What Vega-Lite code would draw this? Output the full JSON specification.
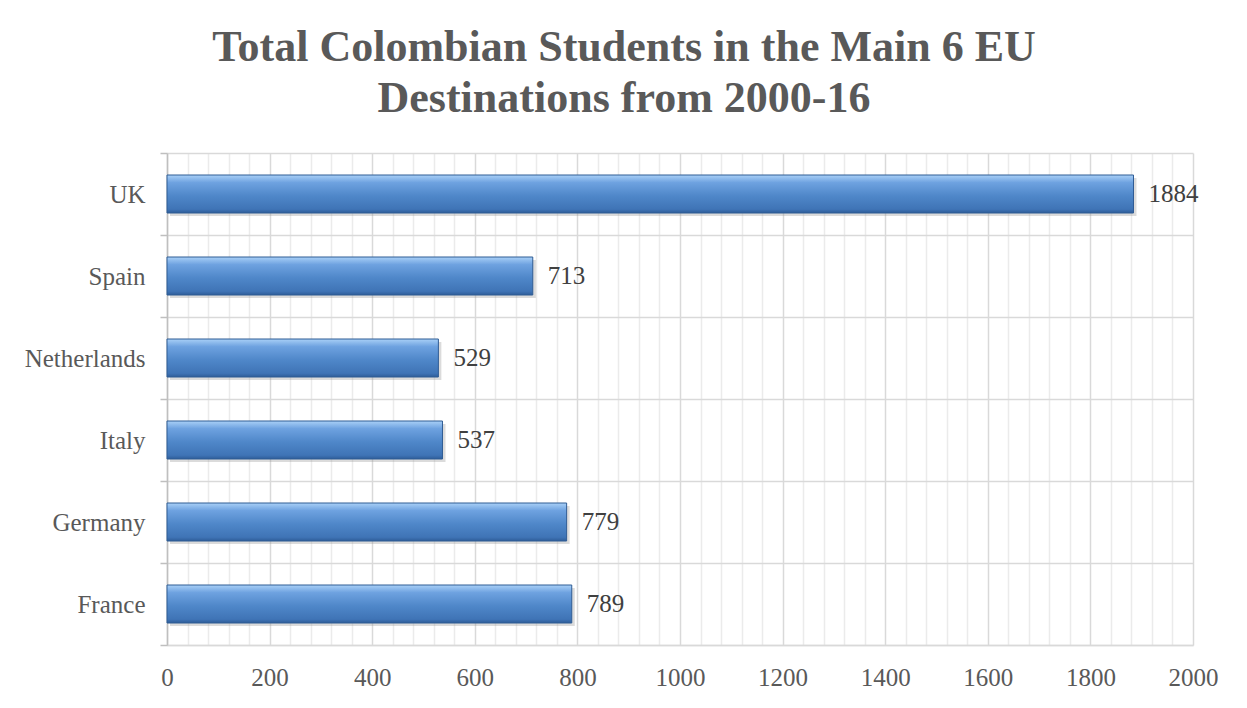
{
  "$schema": "https://vega.github.io/schema/vega-lite/v6.json",
  "width": 1026,
  "height": 492,
  "autosize": "none",
  "padding": {"left": 167, "top": 153, "right": 54, "bottom": 63},
  "background": "white",
  "title": {
    "text": ["Total Colombian Students in the Main 6 EU", "Destinations from 2000-16"],
    "anchor": "middle",
    "frame": "group",
    "dx": -56,
    "offset": 20,
    "font": "Liberation Serif",
    "fontSize": 44,
    "fontWeight": "bold",
    "color": "#595959",
    "lineHeight": 51
  },
  "data": {
    "values": [
      {"country": "UK", "students": 1884},
      {"country": "Spain", "students": 713},
      {"country": "Netherlands", "students": 529},
      {"country": "Italy", "students": 537},
      {"country": "Germany", "students": 779},
      {"country": "France", "students": 789}
    ]
  },
  "encoding": {
    "y": {
      "field": "country",
      "type": "nominal",
      "sort": ["UK", "Spain", "Netherlands", "Italy", "Germany", "France"],
      "scale": {"paddingInner": 0, "paddingOuter": 0},
      "axis": {
        "title": null,
        "tickBand": "extent",
        "grid": true,
        "gridColor": "#d9d9d9",
        "gridWidth": 1.5,
        "domainColor": "#bfbfbf",
        "domainWidth": 1.5,
        "tickColor": "#bfbfbf",
        "tickSize": 7,
        "tickWidth": 1.5,
        "labelFont": "Liberation Serif",
        "labelFontSize": 25,
        "labelColor": "#595959",
        "labelPadding": 15
      }
    }
  },
  "layer": [
    {
      "mark": {"type": "bar", "size": 38, "color": "#999999", "opacity": 0.35, "xOffset": 3, "yOffset": 3},
      "encoding": {
        "x": {
          "field": "students",
          "type": "quantitative",
          "scale": {"domain": [0, 2000], "nice": false},
          "axis": {
            "title": null,
            "orient": "bottom",
            "values": [40, 80, 120, 160, 240, 280, 320, 360, 440, 480, 520, 560, 640, 680, 720, 760, 840, 880, 920, 960, 1040, 1080, 1120, 1160, 1240, 1280, 1320, 1360, 1440, 1480, 1520, 1560, 1640, 1680, 1720, 1760, 1840, 1880, 1920, 1960],
            "labels": false,
            "ticks": false,
            "domain": false,
            "grid": true,
            "gridColor": "#ebebeb",
            "gridWidth": 1.5
          }
        }
      }
    },
    {
      "mark": {
        "type": "bar",
        "size": 38,
        "stroke": "#2f5c94",
        "strokeWidth": 1,
        "color": {
          "gradient": "linear",
          "x1": 0, "y1": 0, "x2": 0, "y2": 1,
          "stops": [
            {"offset": 0, "color": "#a9d0f7"},
            {"offset": 0.2, "color": "#6ea2e0"},
            {"offset": 0.55, "color": "#4f87c9"},
            {"offset": 0.9, "color": "#3f74b6"},
            {"offset": 1, "color": "#2f5d99"}
          ]
        }
      },
      "encoding": {
        "x": {
          "field": "students",
          "type": "quantitative",
          "scale": {"domain": [0, 2000], "nice": false},
          "axis": {
            "title": null,
            "orient": "bottom",
            "values": [0, 200, 400, 600, 800, 1000, 1200, 1400, 1600, 1800, 2000],
            "format": "d",
            "labelFlush": false,
            "grid": true,
            "gridColor": "#d9d9d9",
            "gridWidth": 1.5,
            "ticks": false,
            "domainColor": "#d9d9d9",
            "domainWidth": 1.5,
            "labelFont": "Liberation Serif",
            "labelFontSize": 25,
            "labelColor": "#595959",
            "labelPadding": 20
          }
        }
      }
    },
    {
      "mark": {
        "type": "text",
        "align": "left",
        "baseline": "middle",
        "dx": 15,
        "font": "Liberation Serif",
        "fontSize": 25,
        "color": "#404040"
      },
      "encoding": {
        "x": {"field": "students", "type": "quantitative", "axis": null},
        "text": {"field": "students", "type": "quantitative", "format": "d"}
      }
    }
  ],
  "resolve": {"axis": {"x": "independent"}},
  "config": {"view": {"stroke": null}}
}
